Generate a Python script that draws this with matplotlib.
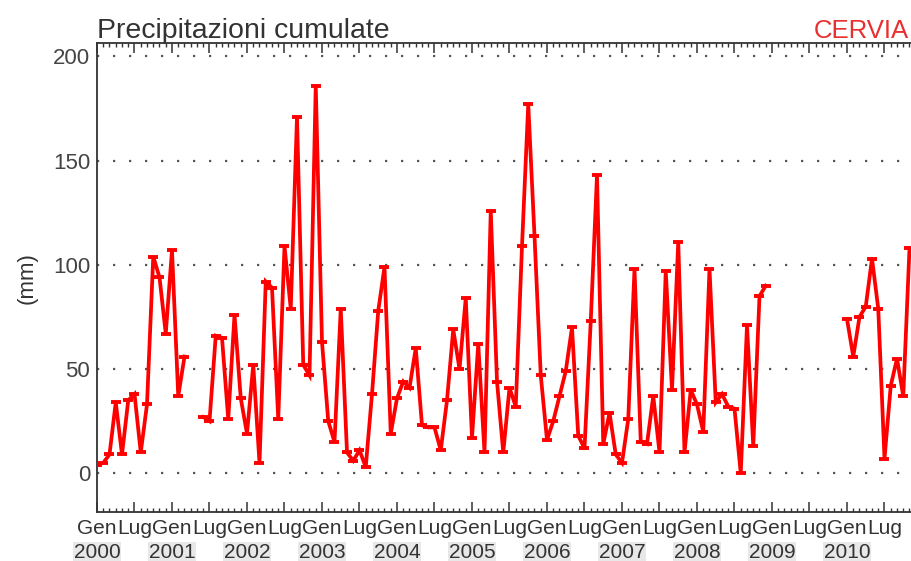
import numpy as np
import matplotlib
matplotlib.use('Agg')
import matplotlib.pyplot as plt
from matplotlib.ticker import MultipleLocator, FixedLocator, FixedFormatter

plt.rcParams['font.family'] = ['Liberation Sans', 'DejaVu Sans']

# ----------------------------------------------------------------
# monthly cumulated precipitation (mm), Cervia, from Jan 2000
# None = missing month
# ----------------------------------------------------------------
first_year = 2000
precip_mm = [
    4, 5, 9, 34, 9, 35, 38, 10, 33, 104, 94, 67,            # 2000
    107, 37, 56, None, None, 27, 25, 66, 65, 26, 76, 36,    # 2001
    19, 52, 5, 92, 89, 26, 109, 79, 171, 52, 47, 186,       # 2002
    63, 25, 15, 79, 10, 6, 11, 3, 38, 78, 99, 19,           # 2003
    36, 44, 41, 60, 23, 22, 22, 11, 35, 69, 50, 84,         # 2004
    17, 62, 10, 126, 44, 10, 41, 32, 109, 177, 114, 47,     # 2005
    16, 25, 37, 49, 70, 18, 12, 73, 143, 14, 29, 9,         # 2006
    5, 26, 98, 15, 14, 37, 10, 97, 40, 111, 10, 40,         # 2007
    33, 20, 98, 34, 38, 32, 31, 0, 71, 13, 85, 90,          # 2008
    None, None, None, None, None, None, None, None, None, None, None, None,  # 2009
    74, 56, 75, 80, 103, 79, 7, 42, 55, 37, 108,            # 2010
]
month_names = ['Gen', 'Lug']
year_labels = [str(y) for y in range(2000, 2011)]
y_ticks = [0, 50, 100, 150, 200]

values = np.array([np.nan if v is None else v for v in precip_mm], dtype=float)
months = np.arange(len(values))

W, H = 912, 561
fig = plt.figure(figsize=(W / 100, H / 100), dpi=100)
# axes runs a bit past the right edge of the picture (cropped original)
ax_h = 512 - 42.5
ax = fig.add_axes([97 / W, 1 - 512 / H, (922 - 97) / W, ax_h / H])

ax.plot(months, values, color='#ff0000', lw=2.7, marker='_', ms=7, mew=2.8,
        solid_joinstyle='miter', zorder=3)

ax.set_xlim(0, 132)
ax.set_ylim(-18.6, 206.7)

# horizontal dotted grid
for yv in y_ticks:
    ax.axhline(yv, color='#555555', lw=1.6, ls=(0, (1, 6.2)), zorder=1)

ax.set_yticks(y_ticks)
ax.tick_params(axis='y', length=0, pad=5, labelsize=16, labelcolor='#444444')

# x ticks: every month minor, every six months major (Gen / Lug)
major_pos = list(range(0, 132, 6))
ax.xaxis.set_major_locator(FixedLocator(major_pos))
ax.xaxis.set_major_formatter(FixedFormatter([month_names[(p // 6) % 2] for p in major_pos]))
ax.xaxis.set_minor_locator(MultipleLocator(1))
ax.tick_params(axis='x', which='both', direction='in', top=True, bottom=True,
               color='#333333', labelsize=15, labelcolor='#333333', pad=5)
ax.tick_params(axis='x', which='major', length=7, width=1.1)
ax.tick_params(axis='x', which='minor', length=3.2, width=1.0)

for i, yl in enumerate(year_labels):
    ax.text(i * 12, -(552 - 512) / ax_h, yl, transform=ax.get_xaxis_transform(),
            ha='center', va='center', fontsize=15, color='#333333',
            bbox=dict(facecolor='#e8e8e8', edgecolor='none', pad=0.3))

for side in ['left', 'top', 'bottom']:
    ax.spines[side].set_color('#333333')
    ax.spines[side].set_linewidth(1.3)
ax.spines['right'].set_visible(False)

fig.text(97 / W, 1 - 38 / H, 'Precipitazioni cumulate', fontsize=20.5,
         color='#333333', ha='left', va='baseline')
fig.text(909 / W, 1 - 38 / H, 'CERVIA', fontsize=18.5,
         color='#e83030', ha='right', va='baseline')
fig.text(27 / W, 1 - 278 / H, '(mm)', fontsize=16, color='#333333',
         rotation=90, ha='center', va='center')

fig.savefig('out.png', dpi=100)
